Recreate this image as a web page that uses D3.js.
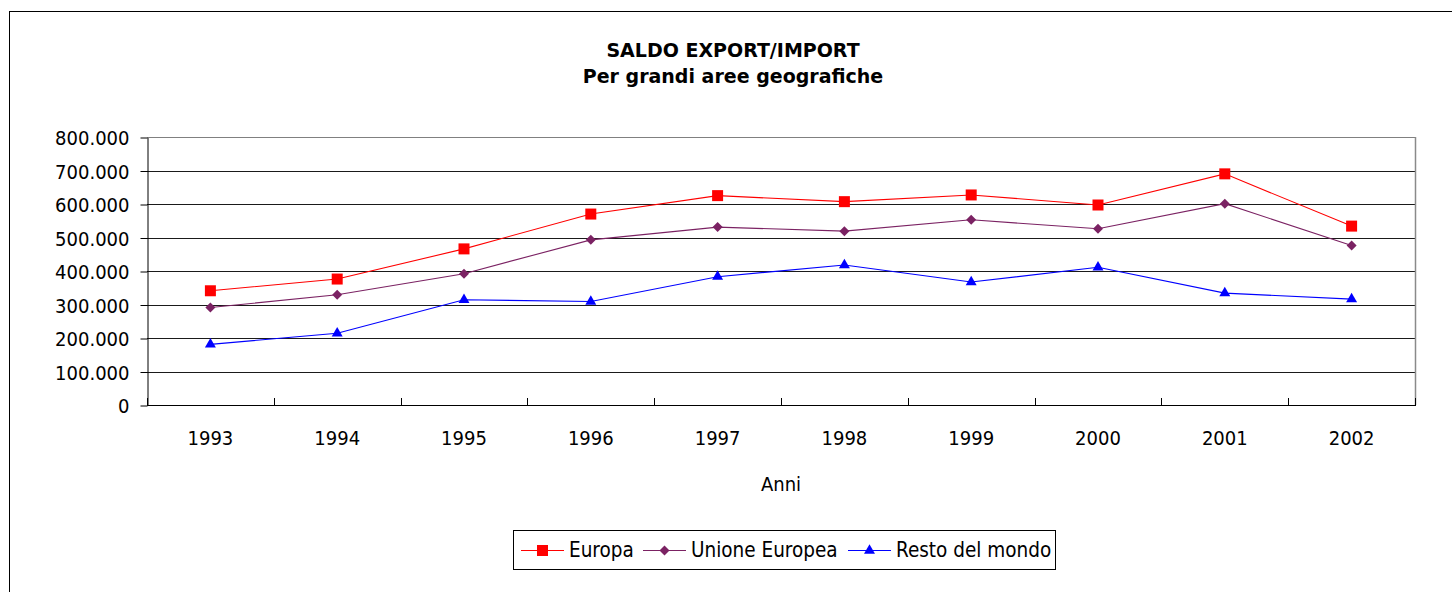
<!DOCTYPE html>
<html>
<head>
<meta charset="utf-8">
<script src="https://d3js.org/d3.v7.min.js"></script>
<style>
  html, body { margin: 0; padding: 0; background: #fff; }
  svg { display: block; }
  text { font-family: 'DejaVu Sans Condensed', 'DejaVu Sans', sans-serif; font-stretch: condensed; fill: #000; }
  .title { font-family: 'DejaVu Sans', sans-serif; font-stretch: normal; font-weight: bold; font-size: 19px; }
</style>
</head>
<body>
<div id="main"></div>
<script>
var years = ['1993', '1994', '1995', '1996', '1997', '1998', '1999', '2000', '2001', '2002'];
var europa = [341000, 376000, 466000, 570000, 625000, 607000, 627000, 597000, 690000, 534000];
var unioneEuropea = [291000, 329000, 392000, 493000, 531000, 519000, 553000, 526000, 601000, 476000];
var restoDelMondo = [181000, 214000, 314000, 309000, 383000, 418000, 367000, 411000, 334000, 316000];
var yTicks = [0, 100000, 200000, 300000, 400000, 500000, 600000, 700000, 800000];
var titleLines = ['SALDO EXPORT/IMPORT', 'Per grandi aree geografiche'];
var xTitle = 'Anni';

function Sketch() {
  this.width = 1452;
  this.height = 592;
  this.plot = {left: 147, right: 1415, top: 137, bottom: 405};
}

Sketch.prototype.init = function() {
  this.svg = d3.select('#main')
    .append('svg')
    .attr('width', this.width)
    .attr('height', this.height);

  // outer chart border, runs off the right and bottom of the picture
  this.svg.append('rect')
    .attr('x', 9.5)
    .attr('y', 11.5)
    .attr('width', 1500)
    .attr('height', 700)
    .attr('fill', '#fff')
    .attr('stroke', '#000');
};

Sketch.prototype.update = function() {
  this.data = [
    {name: 'Europa', values: europa, color: '#ff0000', symbol: d3.symbolSquare, size: 121, rot: 0, lx: 521},
    {name: 'Unione Europea', values: unioneEuropea, color: '#7b2263', symbol: d3.symbolSquare, size: 50, rot: 45, lx: 643},
    {name: 'Resto del mondo', values: restoDelMondo, color: '#0000ff', symbol: d3.symbolTriangle, size: 52, rot: 0, lx: 848}
  ];
};

Sketch.prototype.render = function() {
  var p = this.plot;
  var svg = this.svg;

  var x = d3.scaleBand()
    .domain(years)
    .range([p.left, p.right]);

  var y = d3.scaleLinear()
    .domain([0, 800000])
    .range([p.bottom, p.top]);

  var it = d3.formatLocale({decimal: ',', thousands: '.', grouping: [3], currency: ['', '€']});
  var fmt = it.format(',d');

  // title
  svg.append('g')
    .selectAll('text')
    .data(titleLines)
    .enter()
    .append('text')
    .attr('class', 'title')
    .attr('x', 733)
    .attr('y', function(d, i) { return 57 + i * 26; })
    .attr('text-anchor', 'middle')
    .text(function(d) { return d; });

  // gridlines
  svg.append('g')
    .selectAll('line')
    .data(yTicks.slice(1))
    .enter()
    .append('line')
    .attr('x1', p.left)
    .attr('x2', p.right)
    .attr('y1', function(d) { return Math.round(y(d)) + 0.5; })
    .attr('y2', function(d) { return Math.round(y(d)) + 0.5; })
    .attr('stroke', function(d) { return d === 800000 ? '#808080' : '#1a1a1a'; });

  // right border of plot area
  svg.append('line')
    .attr('x1', p.right + 0.5)
    .attr('x2', p.right + 0.5)
    .attr('y1', p.top)
    .attr('y2', p.bottom)
    .attr('stroke', '#8a8a8a')
    .attr('stroke-width', 1.5);

  // y axis
  var yAxis = d3.axisLeft(y)
    .tickValues(yTicks)
    .tickFormat(fmt)
    .tickSizeInner(7)
    .tickSizeOuter(0)
    .tickPadding(11);

  var gy = svg.append('g')
    .attr('transform', 'translate(' + (p.left + 0.5) + ',0.5)')
    .call(yAxis);
  gy.selectAll('text').attr('font-size', 20).attr('font-family', null).attr('dy', '0.36em');
  gy.selectAll('line, path').attr('stroke', '#000');

  // x axis: ticks between categories, pointing up into the plot
  var bounds = d3.range(years.length + 1).map(function(i) { return p.left + i * x.step(); });
  svg.append('line')
    .attr('x1', p.left)
    .attr('x2', p.right + 1)
    .attr('y1', p.bottom + 0.5)
    .attr('y2', p.bottom + 0.5)
    .attr('stroke', '#000');

  svg.append('g')
    .selectAll('line')
    .data(bounds)
    .enter()
    .append('line')
    .attr('x1', function(d) { return Math.round(d) + 0.5; })
    .attr('x2', function(d) { return Math.round(d) + 0.5; })
    .attr('y1', p.bottom - 7)
    .attr('y2', p.bottom)
    .attr('stroke', '#000');

  svg.append('g')
    .selectAll('text')
    .data(years)
    .enter()
    .append('text')
    .attr('x', function(d) { return x(d) + x.bandwidth() / 2; })
    .attr('y', 445)
    .attr('text-anchor', 'middle')
    .attr('font-size', 20)
    .text(function(d) { return d; });

  svg.append('text')
    .attr('x', (p.left + p.right) / 2)
    .attr('y', 491)
    .attr('text-anchor', 'middle')
    .attr('font-size', 20)
    .text(xTitle);

  // series
  var line = d3.line()
    .x(function(d, i) { return x(years[i]) + x.bandwidth() / 2; })
    .y(function(d) { return y(d); });

  var series = svg.append('g')
    .selectAll('g')
    .data(this.data)
    .enter()
    .append('g');

  series.append('path')
    .attr('d', function(d) { return line(d.values); })
    .attr('fill', 'none')
    .attr('stroke', function(d) { return d.color; })
    .attr('stroke-width', 1.1);

  series.each(function(s) {
    d3.select(this).selectAll('path.mark')
      .data(s.values)
      .enter()
      .append('path')
      .attr('class', 'mark')
      .attr('transform', function(d, i) {
        return 'translate(' + (x(years[i]) + x.bandwidth() / 2) + ',' + y(d) + ') rotate(' + s.rot + ')';
      })
      .attr('d', d3.symbol().type(s.symbol).size(s.size))
      .attr('fill', s.color);
  });

  // legend
  var legend = svg.append('g');
  legend.append('rect')
    .attr('x', 513.5)
    .attr('y', 530.5)
    .attr('width', 542)
    .attr('height', 39)
    .attr('fill', '#fff')
    .attr('stroke', '#000');

  this.data.forEach(function(s) {
    legend.append('line')
      .attr('x1', s.lx)
      .attr('x2', s.lx + 43)
      .attr('y1', 550.5)
      .attr('y2', 550.5)
      .attr('stroke', s.color);
    legend.append('path')
      .attr('transform', 'translate(' + (s.lx + 21.5) + ',550.5) rotate(' + s.rot + ')')
      .attr('d', d3.symbol().type(s.symbol).size(s.size))
      .attr('fill', s.color);
    legend.append('text')
      .attr('x', s.lx + 48)
      .attr('y', 557)
      .attr('font-size', 20.5)
      .text(s.name);
  });
};

document.addEventListener('DOMContentLoaded', function() {
  var s = new Sketch();
  s.init();
  s.update();
  s.render();
});
</script>
</body>
</html>
